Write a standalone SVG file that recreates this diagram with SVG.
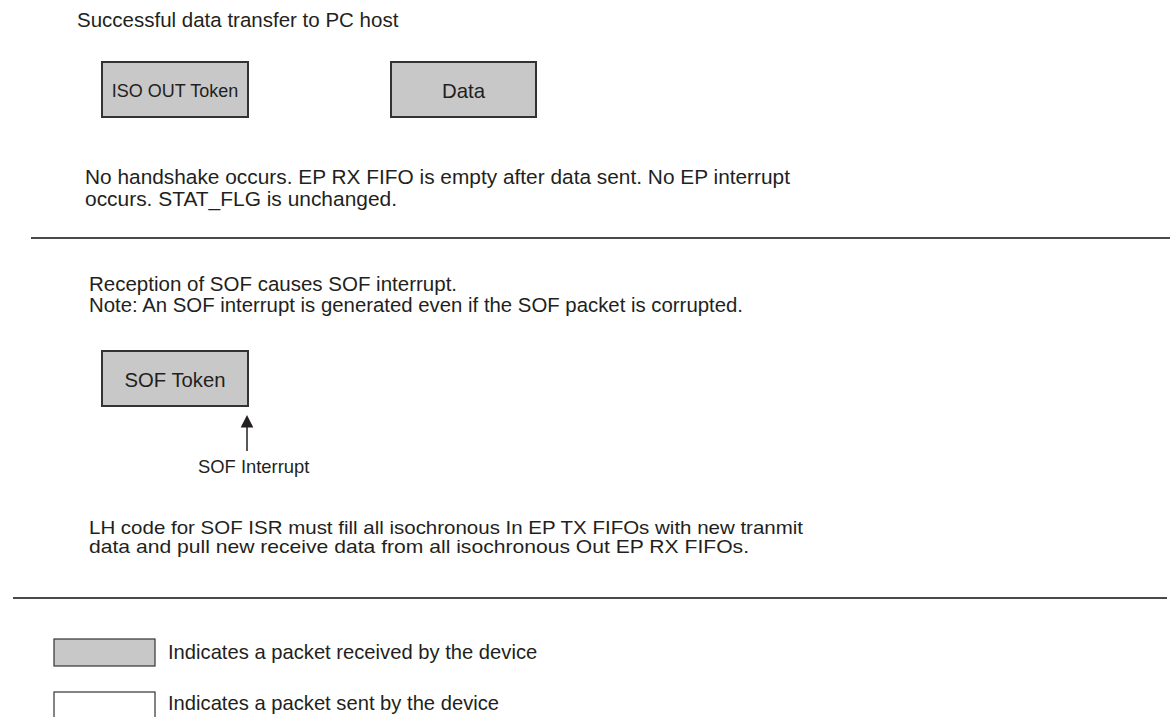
<svg xmlns="http://www.w3.org/2000/svg" width="1170" height="717" viewBox="0 0 1170 717">
  <style>
    text { font-family: "Liberation Sans", Arial, Helvetica, sans-serif; fill: #231f20; }
    .body { font-size: 20.5px; }
    .pkt { fill: #c8c8c8; stroke: #333333; stroke-width: 2; }
    .legend { stroke: #333333; stroke-width: 1.2; }
    .sep { stroke: #4a4a4a; stroke-width: 2; fill: none; }
  </style>
  <rect width="1170" height="717" fill="#ffffff"/>

  <text class="body" x="77" y="27" font-size="20.8">Successful data transfer to PC host</text>

  <g id="iso-out-token">
    <rect class="pkt" x="102" y="62" width="146" height="55"/>
    <text x="175" y="97" font-size="18" text-anchor="middle">ISO OUT Token</text>
  </g>
  <g id="data">
    <rect class="pkt" x="391" y="62" width="145" height="55"/>
    <text x="463.5" y="98" font-size="20.4" text-anchor="middle">Data</text>
  </g>

  <text class="body" x="85" y="184" textLength="705" lengthAdjust="spacingAndGlyphs">No handshake occurs. EP RX FIFO is empty after data sent. No EP interrupt</text>
  <text class="body" x="85" y="206" textLength="312" lengthAdjust="spacingAndGlyphs">occurs. STAT_FLG is unchanged.</text>

  <line class="sep" x1="31" y1="238" x2="1170" y2="238"/>

  <text class="body" x="89" y="291">Reception of SOF causes SOF interrupt.</text>
  <text class="body" x="89" y="312" textLength="654" lengthAdjust="spacingAndGlyphs">Note: An SOF interrupt is generated even if the SOF packet is corrupted.</text>

  <g id="sof-token">
    <rect class="pkt" x="102" y="351" width="146" height="55"/>
    <text x="175" y="387" font-size="20.3" text-anchor="middle">SOF Token</text>
  </g>

  <g id="connectors">
    <line x1="247" y1="451" x2="247" y2="425" stroke="#231f20" stroke-width="1.5"/>
    <polygon points="247,415 240.7,427.5 253.3,427.5" fill="#231f20"/>
  </g>
  <text x="198" y="472.5" font-size="18.4">SOF Interrupt</text>

  <text x="89" y="534" font-size="18.5" textLength="714" lengthAdjust="spacingAndGlyphs">LH code for SOF ISR must fill all isochronous In EP TX FIFOs with new tranmit</text>
  <text x="89" y="553" font-size="18.5" textLength="660" lengthAdjust="spacingAndGlyphs">data and pull new receive data from all isochronous Out EP RX FIFOs.</text>

  <line class="sep" x1="13" y1="598" x2="1167" y2="598"/>

  <g id="legend-received">
    <rect class="legend" x="54" y="639" width="101" height="27" fill="#c8c8c8"/>
    <text x="168" y="659" font-size="20.2">Indicates a packet received by the device</text>
  </g>
  <g id="legend-sent">
    <rect class="legend" x="54" y="692" width="101" height="30" fill="#ffffff"/>
    <text x="168" y="710" font-size="20.2">Indicates a packet sent by the device</text>
  </g>
</svg>
